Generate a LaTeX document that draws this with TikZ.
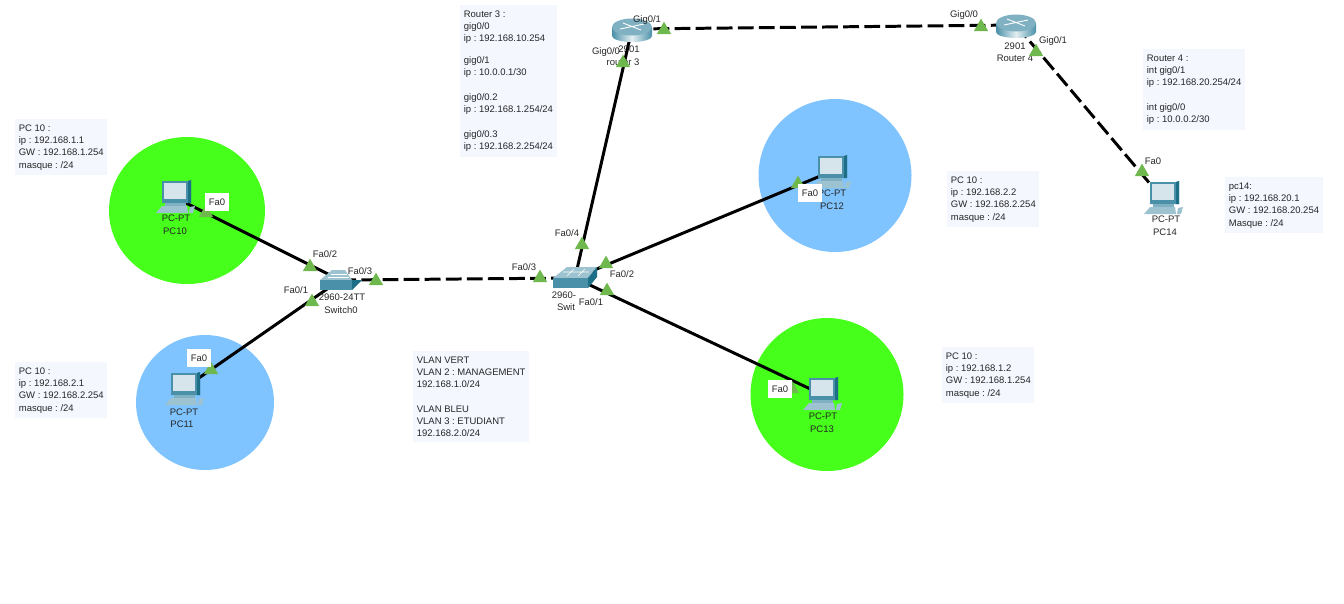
\documentclass[tikz,border=0pt]{standalone}
\usepackage{fontspec}
\setmainfont{Liberation Sans}
\usetikzlibrary{shapes.geometric}
\definecolor{vert}{HTML}{46FF1A}
\definecolor{bleu}{HTML}{80C4FF}
\definecolor{boxbg}{HTML}{F5F7FF}
\definecolor{port}{HTML}{6FB84E}
\definecolor{teal}{HTML}{4A90A8}
\definecolor{tealdark}{HTML}{1C6F86}
\definecolor{teallight}{HTML}{9CC3CF}
\definecolor{screen}{HTML}{D6E4EC}
\tikzset{
  txt/.style={font=\fontsize{5.4}{7}\selectfont\frenchspacing,inner sep=0pt,text=black!85},
  info/.style={txt,fill=boxbg,align=left,anchor=north west,inner xsep=2pt,inner ysep=3pt},
  lab/.style={txt},
  whitelab/.style={txt,fill=white,inner xsep=2pt,inner ysep=3pt},
  dev/.style={inner sep=0pt,minimum size=0pt},
  link/.style={line width=1.7pt,black},
  dashlink/.style={line width=1.7pt,black,dash pattern=on 9pt off 3pt},
  tri/.style={regular polygon,regular polygon sides=3,fill=port,inner sep=0pt,minimum size=9.5pt},
  pics/pcicon/.style={code={
    \fill[teal] (-12,-16) -- (14,-16) -- (17,-17) -- (17,6) -- (-12,6) -- cycle;
    \fill[tealdark] (14,-16) -- (17,-17) -- (17,6) -- (14,6) -- cycle;
    \fill[screen] (-10,-14) rectangle (12,2);
    \fill[teal!70] (-9,6) rectangle (12,9);
    \fill[teallight] (-12,9) -- (13,9) -- (14,16) -- (-18,16) -- cycle;
    \fill[teallight] (16,10) -- (21,9) -- (19,16) -- (15,16) -- cycle;
  }},
  pics/swflat/.style={code={
    \fill[teallight] (-8,-10) -- (5,-10) -- (12,0) -- (-20,0) -- cycle;
    \draw[white,line width=.3pt] (-9,-6) -- (7,-6) (-12,-3) -- (9,-3);
    \fill[teal] (-20,0) rectangle (12,10);
    \fill[tealdark] (12,0) -- (22,0) -- (12,10) -- cycle;
  }},
  pics/swbox/.style={code={
    \fill[teallight] (-8,-11) -- (22,-11) -- (13,0) -- (-22,0) -- cycle;
    \draw[white,line width=.3pt] (-12,-6) -- (14,-6) (-1,-9) -- (-8,-2) (10,-9) -- (3,-2);
    \fill[teal] (-22,0) rectangle (13,10);
    \fill[tealdark] (13,0) -- (22,-11) -- (22,-1) -- (13,10) -- cycle;
  }},
  pics/routericon/.style={code={
    \shade[left color=teal,right color=teal,middle color=teal!15] (-20,-2) -- (-20,7) arc[start angle=180,end angle=0,x radius=20,y radius=6] -- (20,-2) -- cycle;
    \fill[teal!70] (0,-2) ellipse [x radius=20,y radius=8.5];
    \draw[white,line width=.5pt] (-12,0) -- (12,-5) (-9,-6) -- (9,1);
  }}
}
\begin{document}
\begin{tikzpicture}[x=0.02cm,y=-0.02cm]
\useasboundingbox (0,0) rectangle (1344,603);
\fill[vert] (187,210.5) ellipse [x radius=78,y radius=73.5];
\fill[bleu] (205,402.5) ellipse [x radius=69,y radius=67.5];
\fill[bleu] (835,175.5) circle [radius=76.5];
\fill[vert] (827,394.5) circle [radius=76.5];
\node [info] (infopca) at (15,119) {PC 10 :\\ip : 192.168.1.1\\GW : 192.168.1.254\\masque : /24};
\node [info] (infopcb) at (15,362) {PC 10 :\\ip : 192.168.2.1\\GW : 192.168.2.254\\masque : /24};
\node [info] (infopcc) at (947,171) {PC 10 :\\ip : 192.168.2.2\\GW : 192.168.2.254\\masque : /24};
\node [info] (infopcd) at (942,347) {PC 10 :\\ip : 192.168.1.2\\GW : 192.168.1.254\\masque : /24};
\node [info] (infopce) at (1225,177) {pc14:\\ip : 192.168.20.1\\GW : 192.168.20.254\\Masque : /24};
\node [info] (inforthree) at (460,5) {Router 3 :\\gig0/0\\ip : 192.168.10.254\\[5.4pt]gig0/1\\ip : 10.0.0.1/30\\[7pt]gig0/0.2\\ip : 192.168.1.254/24\\[7pt]gig0/0.3\\ip : 192.168.2.254/24};
\node [info] (inforfour) at (1143,49) {Router 4 :\\int gig0/1\\ip : 192.168.20.254/24\\[7pt]int gig0/0\\ip : 10.0.0.2/30};
\node [info] (infovlan) at (413,351) {VLAN VERT\\VLAN 2 : MANAGEMENT\\192.168.1.0/24\\[7pt]VLAN BLEU\\VLAN 3 : ETUDIANT\\192.168.2.0/24};
\node [dev] (pcten) at (174,197) {};
\node [dev] (pceleven) at (183,389) {};
\node [dev] (pctwelve) at (830,172) {};
\node [dev] (pcthirteen) at (821,394) {};
\node [dev] (pcfourteen) at (1162,198) {};
\node [dev] (swzero) at (340,280) {};
\node [dev] (swone) at (575,278) {};
\node [dev] (rthree) at (632,29) {};
\node [dev] (rfour) at (1016,25) {};
\node [lab] (rthreetype) at (629,49) {2901};
\node [lab] (rthreename) at (623,62) {router 3};
\draw [link] (pcten) -- (swzero);
\draw [link] (pceleven) -- (swzero);
\draw [link] (pctwelve) -- (swone);
\draw [link] (pcthirteen) -- (swone);
\draw [link] (rthree) -- (swone);
\draw [dashlink] (swzero) -- (swone);
\draw [dashlink] (rthree) -- (rfour);
\draw [dashlink] (rfour) -- (pcfourteen);
\pic at (pcten) {pcicon};
\pic at (pceleven) {pcicon};
\pic at (pctwelve) {pcicon};
\pic at (pcthirteen) {pcicon};
\pic at (pcfourteen) {pcicon};
\pic at (swzero) {swflat};
\pic at (swone) {swbox};
\pic at (rthree) {routericon};
\pic at (rfour) {routericon};
\node [lab] (pctentype) at (176,218) {PC-PT};
\node [lab] (pctenname) at (175,231) {PC10};
\node [lab] (pcelevtype) at (184,412) {PC-PT};
\node [lab] (pcelevname) at (182,424) {PC11};
\node [lab] (pctwelvtype) at (832,193) {PC-PT};
\node [lab] (pctwelvname) at (832,206) {PC12};
\node [lab] (pcthirtype) at (823,416) {PC-PT};
\node [lab] (pcthirname) at (822,429) {PC13};
\node [lab] (pcfourtype) at (1166,219) {PC-PT};
\node [lab] (pcfourname) at (1165,232) {PC14};
\node [lab] (swzerotype) at (342,297) {2960-24TT};
\node [lab] (swzeroname) at (341,310) {Switch0};
\node [lab] (swonetype) at (564,295) {2960-};
\node [lab] (swonename) at (566,307) {Swit};
\node [lab] (rfourtype) at (1015,46) {2901};
\node [lab] (rfourname) at (1015,58) {Router 4};
\node [tri] (ptpcten) at (206,213) {};
\node [tri] (ptszb) at (310,267) {};
\node [tri] (ptszc) at (376,281) {};
\node [tri] (ptsza) at (312,302) {};
\node [tri] (ptpcel) at (211,370) {};
\node [tri] (ptsoc) at (540,278) {};
\node [tri] (ptsod) at (582,245) {};
\node [tri] (ptsob) at (606,264) {};
\node [tri] (ptsoa) at (607,291) {};
\node [tri] (ptrta) at (623,63) {};
\node [tri] (ptrtb) at (664,30) {};
\node [tri] (ptrfa) at (981,27) {};
\node [tri] (ptrfb) at (1036,52) {};
\node [tri] (ptpcfo) at (1142,172) {};
\node [tri] (ptpctw) at (798,184) {};
\node [tri] (ptpcth) at (792,389) {};
\node [whitelab] (fapcten) at (217,202) {Fa0};
\node [whitelab] (fapcel) at (199,358) {Fa0};
\node [whitelab] (fapctw) at (810,193) {Fa0};
\node [whitelab] (fapcth) at (780,389) {Fa0};
\node [lab] (faszb) at (325,254) {Fa0/2};
\node [lab] (faszc) at (360,271) {Fa0/3};
\node [lab] (fasza) at (296,290) {Fa0/1};
\node [lab] (fasoc) at (524,267) {Fa0/3};
\node [lab] (fasod) at (567,233) {Fa0/4};
\node [lab] (fasob) at (622,274) {Fa0/2};
\node [lab] (fasoa) at (591,302) {Fa0/1};
\node [lab] (gira) at (606,52) {Gig0/0};
\node [lab] (girb) at (647,20) {Gig0/1};
\node [lab] (girfa) at (964,15) {Gig0/0};
\node [lab] (girfb) at (1053,41) {Gig0/1};
\node [lab] (fapcfo) at (1153,161) {Fa0};
\end{tikzpicture}
\end{document}
